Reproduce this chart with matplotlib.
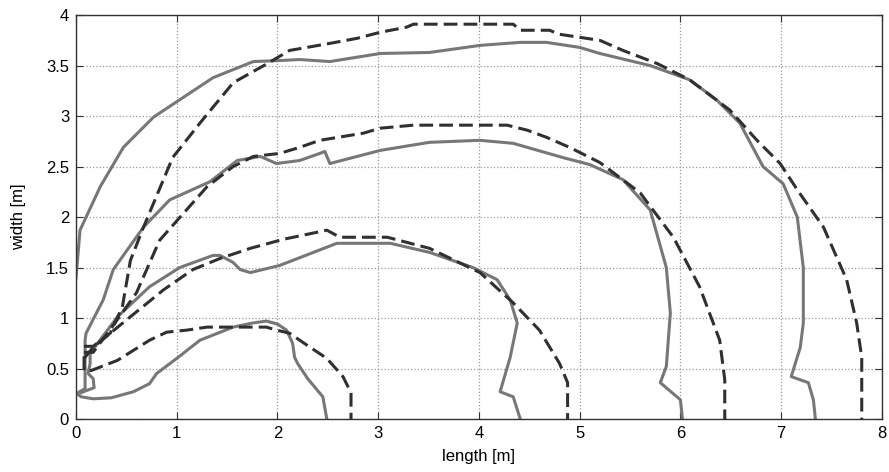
import matplotlib
matplotlib.use('Agg')
import matplotlib.pyplot as plt
import numpy as np

plt.rcParams['font.family'] = ['Liberation Sans', 'DejaVu Sans']
plt.rcParams['font.size'] = 12

# measured contours (solid) and predicted contours (dashed), length / width in metres
meas_1_x = [0.0, 0.05, 0.17, 0.35, 0.57, 0.73, 0.8, 1.0, 1.23, 1.56, 1.75, 1.89, 2.0, 2.09, 2.15, 2.17, 2.2, 2.3, 2.45, 2.49]
meas_1_y = [0.26, 0.22, 0.2, 0.21, 0.27, 0.35, 0.45, 0.6, 0.78, 0.91, 0.95, 0.97, 0.94, 0.88, 0.75, 0.61, 0.55, 0.4, 0.22, 0.0]

meas_2_x = [0.0, 0.1, 0.18, 0.17, 0.12, 0.14, 0.14, 0.41, 0.73, 1.03, 1.36, 1.43, 1.56, 1.63, 1.73, 2.02, 2.59, 3.12,
            3.51, 3.94, 4.18, 4.31, 4.38, 4.31, 4.21, 4.34, 4.41]
meas_2_y = [0.24, 0.28, 0.31, 0.4, 0.45, 0.55, 0.65, 1.01, 1.31, 1.5, 1.62, 1.62, 1.55, 1.48, 1.45, 1.52, 1.74, 1.74,
            1.65, 1.5, 1.38, 1.18, 0.95, 0.61, 0.27, 0.22, 0.0]

meas_3_x = [0.0, 0.09, 0.09, 0.1, 0.27, 0.37, 0.67, 0.93, 1.33, 1.6, 1.83, 1.99, 2.22, 2.42, 2.47, 2.52, 3.02, 3.51,
            4.01, 4.34, 4.83, 5.1, 5.43, 5.7, 5.86, 5.9, 5.86, 5.8, 6.0, 6.02]
meas_3_y = [0.25, 0.3, 0.78, 0.85, 1.18, 1.48, 1.9, 2.17, 2.35, 2.56, 2.6, 2.53, 2.56, 2.63, 2.65, 2.53, 2.66, 2.74,
            2.76, 2.73, 2.59, 2.52, 2.37, 2.07, 1.5, 1.05, 0.52, 0.36, 0.19, 0.0]

meas_4_x = [0.0, 0.04, 0.24, 0.47, 0.77, 1.36, 1.76, 2.02, 2.22, 2.52, 3.02, 3.51, 4.01, 4.41, 4.67, 5.0, 5.2, 5.7,
            6.09, 6.36, 6.59, 6.82, 7.02, 7.16, 7.22, 7.22, 7.19, 7.1, 7.27, 7.32, 7.34]
meas_4_y = [1.4, 1.87, 2.3, 2.69, 2.99, 3.38, 3.54, 3.55, 3.56, 3.54, 3.62, 3.63, 3.7, 3.73, 3.73, 3.68, 3.62, 3.5,
            3.36, 3.16, 2.93, 2.5, 2.33, 2.0, 1.5, 0.95, 0.71, 0.42, 0.36, 0.19, 0.0]

pred_1_x = [0.08, 0.08, 0.15, 0.41, 0.73, 0.9, 1.1, 1.3, 1.89, 1.99, 2.12, 2.25, 2.49, 2.65, 2.73, 2.73]
pred_1_y = [0.62, 0.48, 0.48, 0.58, 0.78, 0.86, 0.88, 0.91, 0.91, 0.88, 0.85, 0.76, 0.6, 0.42, 0.26, 0.0]

pred_2_x = [0.08, 0.17, 0.5, 0.87, 1.16, 1.43, 1.73, 2.06, 2.3, 2.49, 2.62, 3.09, 3.51, 4.01, 4.34, 4.6, 4.8, 4.88, 4.88]
pred_2_y = [0.6, 0.71, 0.98, 1.28, 1.48, 1.59, 1.69, 1.78, 1.83, 1.87, 1.8, 1.8, 1.69, 1.45, 1.15, 0.88, 0.55, 0.36, 0.0]

pred_3_x = [0.08, 0.17, 0.35, 0.6, 0.83, 1.3, 1.56, 1.76, 2.02, 2.22, 2.42, 2.85, 3.02, 3.35, 4.28, 4.48, 4.67, 4.9,
            5.2, 5.6, 5.93, 6.19, 6.39, 6.44, 6.44]
pred_3_y = [0.66, 0.66, 0.9, 1.25, 1.77, 2.3, 2.5, 2.6, 2.63, 2.69, 2.76, 2.83, 2.88, 2.91, 2.91, 2.86, 2.79, 2.69,
            2.54, 2.24, 1.8, 1.31, 0.78, 0.39, 0.0]

pred_4_x = [0.08, 0.17, 0.34, 0.46, 0.54, 0.67, 0.96, 1.23, 1.56, 1.9, 2.12, 2.52, 2.79, 3.02, 3.28, 3.35, 4.34, 4.41,
            4.7, 4.8, 5.0, 5.2, 5.43, 5.77, 6.09, 6.49, 6.76, 6.99, 7.16, 7.42, 7.65, 7.75, 7.8, 7.8]
pred_4_y = [0.72, 0.72, 0.85, 1.11, 1.57, 1.9, 2.59, 2.93, 3.33, 3.52, 3.65, 3.72, 3.77, 3.83, 3.88, 3.91, 3.91, 3.85,
            3.85, 3.81, 3.78, 3.75, 3.65, 3.52, 3.36, 3.06, 2.76, 2.53, 2.27, 1.9, 1.38, 0.95, 0.61, 0.0]

measured = [(meas_1_x, meas_1_y), (meas_2_x, meas_2_y), (meas_3_x, meas_3_y), (meas_4_x, meas_4_y)]
predicted = [(pred_1_x, pred_1_y), (pred_2_x, pred_2_y), (pred_3_x, pred_3_y), (pred_4_x, pred_4_y)]

fig = plt.figure(figsize=(8.89, 4.72), dpi=100)
ax = fig.add_axes([0.0855, 0.1123, 0.9065, 0.8557])

for x, y in measured:
    ax.plot(x, y, color='#777777', lw=2.2, solid_joinstyle='round')
for x, y in predicted:
    ax.plot(x, y, color='#303030', lw=2.2, ls=(0, (4.5, 2)))

ax.set_xlim(0, 8)
ax.set_ylim(0, 4)
ax.set_xticks(np.arange(0, 9, 1))
ax.set_yticks(np.arange(0, 4.01, 0.5))
ax.set_yticklabels(['0', '0.5', '1', '1.5', '2', '2.5', '3', '3.5', '4'])
ax.grid(True, ls=':', color='#999999', lw=0.9)
ax.tick_params(direction='in', top=True, right=True, length=5, labelsize=12, color='#333333', pad=5)
for s in ax.spines.values():
    s.set_color('#333333')
    s.set_linewidth(1.0)

ax.set_xlabel('length [m]', fontsize=12, labelpad=6)
ax.set_ylabel('width [m]', fontsize=12, labelpad=14)

fig.savefig('out.png', dpi=100)
